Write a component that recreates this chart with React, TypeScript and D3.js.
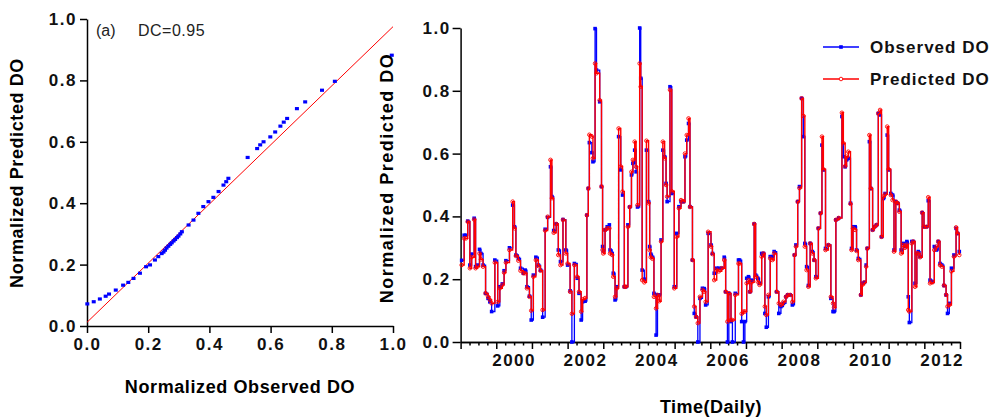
import React, { useEffect, useRef } from 'react';
import * as d3 from 'd3';

// (a) scatter: normalized observed vs predicted DO
const scatterObserved = [0.001, 0.022, 0.042, 0.061, 0.072, 0.094, 0.118, 0.135, 0.152, 0.173, 0.193, 0.206, 0.222, 0.233, 0.244, 0.25, 0.255, 0.26, 0.266, 0.272, 0.277, 0.283, 0.288, 0.294, 0.299, 0.305, 0.31, 0.332, 0.348, 0.364, 0.38, 0.397, 0.413, 0.43, 0.446, 0.455, 0.462, 0.525, 0.556, 0.566, 0.577, 0.599, 0.615, 0.632, 0.643, 0.654, 0.686, 0.713, 0.768, 0.81, 0.996];
const scatterPredicted = [0.072, 0.079, 0.088, 0.097, 0.104, 0.117, 0.133, 0.142, 0.155, 0.172, 0.193, 0.199, 0.215, 0.226, 0.236, 0.241, 0.247, 0.254, 0.26, 0.266, 0.271, 0.277, 0.282, 0.288, 0.293, 0.3, 0.307, 0.329, 0.345, 0.367, 0.389, 0.405, 0.419, 0.438, 0.459, 0.47, 0.481, 0.549, 0.578, 0.59, 0.6, 0.616, 0.632, 0.651, 0.664, 0.676, 0.708, 0.73, 0.768, 0.797, 0.882];
const fitIntercept = 0.012;
const fitSlope = 0.963;

// time series (decimal years)
const sampleYears = [
  1999.03, 1999.10, 1999.15, 1999.20, 1999.26, 1999.31, 1999.38, 1999.42, 1999.47, 1999.53, 1999.57, 1999.63, 1999.70, 1999.77, 1999.82, 1999.87, 1999.96,
  2000.04, 2000.10, 2000.17, 2000.22, 2000.27, 2000.37, 2000.46, 2000.51, 2000.55, 2000.62, 2000.68, 2000.76, 2000.81, 2000.86, 2000.93, 2000.98,
  2001.04, 2001.11, 2001.18, 2001.24, 2001.30, 2001.37, 2001.44, 2001.52, 2001.56, 2001.61, 2001.68, 2001.74, 2001.80, 2001.87, 2001.95,
  2002.00, 2002.07, 2002.12, 2002.19, 2002.27, 2002.32, 2002.38, 2002.42, 2002.49, 2002.54, 2002.58, 2002.61, 2002.68, 2002.71, 2002.77, 2002.81, 2002.90, 2002.95, 2002.98,
  2003.00, 2003.05, 2003.11, 2003.17, 2003.19, 2003.25, 2003.28, 2003.33, 2003.38, 2003.43, 2003.49, 2003.54, 2003.59, 2003.63, 2003.69, 2003.74, 2003.79, 2003.83, 2003.88, 2003.92, 2003.96,
  2004.02, 2004.05, 2004.09, 2004.15, 2004.21, 2004.27, 2004.30, 2004.33, 2004.38, 2004.42, 2004.48, 2004.52, 2004.57, 2004.62, 2004.67, 2004.72, 2004.76, 2004.79, 2004.87, 2004.92, 2004.99,
  2005.06, 2005.12, 2005.18, 2005.25, 2005.29, 2005.34, 2005.39, 2005.43, 2005.50, 2005.55, 2005.60, 2005.65, 2005.71, 2005.78, 2005.83, 2005.87, 2005.94,
  2006.02, 2006.06, 2006.11, 2006.18, 2006.24, 2006.32, 2006.39, 2006.43, 2006.48, 2006.52, 2006.58, 2006.62, 2006.70, 2006.79, 2006.82, 2006.88, 2006.93, 2006.97,
  2007.02, 2007.07, 2007.11, 2007.16, 2007.23, 2007.27, 2007.33, 2007.38, 2007.44, 2007.49, 2007.53, 2007.57, 2007.63, 2007.68, 2007.74, 2007.79, 2007.86, 2007.92, 2007.98,
  2008.05, 2008.12, 2008.17, 2008.24, 2008.30, 2008.36, 2008.40, 2008.45, 2008.50, 2008.56, 2008.61, 2008.65, 2008.70, 2008.75, 2008.80, 2008.86, 2008.91, 2008.96,
  2009.03, 2009.09, 2009.13, 2009.17, 2009.23, 2009.31, 2009.38, 2009.44, 2009.47, 2009.52, 2009.60, 2009.69, 2009.73, 2009.78, 2009.82, 2009.87, 2009.93, 2009.96,
  2010.00, 2010.06, 2010.10, 2010.15, 2010.22, 2010.26, 2010.32, 2010.37, 2010.40, 2010.46, 2010.50, 2010.55, 2010.60, 2010.66, 2010.71, 2010.76, 2010.80, 2010.85, 2010.90, 2010.96,
  2011.00, 2011.06, 2011.11, 2011.15, 2011.20, 2011.25, 2011.30, 2011.35, 2011.41, 2011.46, 2011.51, 2011.55, 2011.58, 2011.65, 2011.69, 2011.74, 2011.79, 2011.83, 2011.88, 2011.94, 2011.99,
  2012.06, 2012.11, 2012.16, 2012.23, 2012.28, 2012.34, 2012.39, 2012.44, 2012.49, 2012.55, 2012.61, 2012.65, 2012.70, 2012.76, 2012.83, 2012.89, 2012.93, 2012.98,
];
const observedDO = [
  0.26, 0.34, 0.34, 0.385, 0.245, 0.28, 0.394, 0.24, 0.245, 0.295, 0.282, 0.245, 0.155, 0.139, 0.128, 0.097, 0.261,
  0.115, 0.176, 0.185, 0.227, 0.259, 0.30, 0.436, 0.367, 0.277, 0.266, 0.235, 0.219, 0.229, 0.176, 0.146, 0.07,
  0.213, 0.27, 0.245, 0.229, 0.079, 0.359, 0.397, 0.558, 0.463, 0.355, 0.376, 0.293, 0.256, 0.39, 0.293,
  0.245, 0.163, 0.0, 0.25, 0.203, 0.155, 0.07, 0.128, 0.13, 0.404, 0.489, 0.635, 0.603, 0.574, 0.998, 0.866, 0.765, 0.495, 0.304,
  0.29, 0.357, 0.367, 0.373, 0.293, 0.282, 0.219, 0.134, 0.176, 0.654, 0.548, 0.468, 0.176, 0.176, 0.373, 0.43, 0.532, 0.569, 0.611, 0.542, 0.43,
  1.0, 0.84, 0.229, 0.2, 0.611, 0.447, 0.304, 0.28, 0.27, 0.155, 0.022, 0.15, 0.15, 0.325, 0.611, 0.59, 0.505, 0.447, 0.813, 0.473, 0.176,
  0.346, 0.431, 0.447, 0.447, 0.59, 0.643, 0.696, 0.431, 0.261, 0.091, 0.08, 0.0, 0.139, 0.171, 0.17, 0.118, 0.346,
  0.309, 0.282, 0.219, 0.235, 0.235, 0.235, 0.27, 0.16, 0.0, 0.155, 0.065, 0.0, 0.155, 0.261, 0.261, 0.065, 0.0, 0.065,
  0.203, 0.208, 0.16, 0.197, 0.376, 0.213, 0.203, 0.187, 0.282, 0.282, 0.091, 0.047, 0.144, 0.272, 0.272, 0.288, 0.16, 0.091, 0.113,
  0.123, 0.144, 0.15, 0.15, 0.118, 0.277, 0.309, 0.447, 0.495, 0.776, 0.654, 0.314, 0.24, 0.18, 0.314, 0.288, 0.261, 0.208,
  0.362, 0.41, 0.627, 0.548, 0.298, 0.309, 0.139, 0.097, 0.097, 0.389, 0.395, 0.718, 0.59, 0.558, 0.58, 0.585, 0.442, 0.298,
  0.367, 0.367, 0.293, 0.266, 0.15, 0.187, 0.19, 0.245, 0.298, 0.638, 0.489, 0.357, 0.367, 0.373, 0.728, 0.723, 0.335, 0.457, 0.473, 0.659,
  0.548, 0.473, 0.468, 0.293, 0.447, 0.442, 0.42, 0.293, 0.314, 0.304, 0.32, 0.144, 0.062, 0.32, 0.32, 0.187, 0.282, 0.288, 0.272, 0.412, 0.367,
  0.367, 0.45, 0.197, 0.192, 0.304, 0.293, 0.32, 0.25, 0.245, 0.18, 0.15, 0.091, 0.123, 0.235, 0.277, 0.362, 0.346, 0.288,
];
const predictedDO = [
  0.245, 0.33, 0.33, 0.383, 0.235, 0.27, 0.39, 0.235, 0.24, 0.282, 0.263, 0.24, 0.155, 0.144, 0.134, 0.123, 0.253,
  0.128, 0.171, 0.182, 0.221, 0.253, 0.293, 0.447, 0.362, 0.274, 0.259, 0.227, 0.219, 0.219, 0.171, 0.144, 0.10,
  0.208, 0.261, 0.242, 0.227, 0.102, 0.355, 0.399, 0.58, 0.458, 0.348, 0.376, 0.277, 0.245, 0.389, 0.282,
  0.25, 0.16, 0.09, 0.245, 0.208, 0.16, 0.097, 0.136, 0.14, 0.404, 0.489, 0.66, 0.654, 0.585, 0.887, 0.856, 0.77, 0.495, 0.293,
  0.282, 0.357, 0.362, 0.362, 0.282, 0.277, 0.208, 0.144, 0.171, 0.68, 0.559, 0.479, 0.176, 0.176, 0.367, 0.43, 0.542, 0.58, 0.638, 0.558, 0.436,
  0.887, 0.813, 0.197, 0.19, 0.641, 0.442, 0.293, 0.27, 0.265, 0.144, 0.107, 0.15, 0.13, 0.32, 0.638, 0.585, 0.5, 0.463, 0.803, 0.48, 0.171,
  0.335, 0.426, 0.452, 0.447, 0.6, 0.659, 0.712, 0.43, 0.261, 0.113, 0.08, 0.06, 0.144, 0.166, 0.16, 0.128, 0.351,
  0.304, 0.28, 0.197, 0.23, 0.225, 0.235, 0.261, 0.16, 0.065, 0.155, 0.07, 0.07, 0.15, 0.25, 0.25, 0.09, 0.097, 0.097,
  0.187, 0.197, 0.16, 0.19, 0.376, 0.208, 0.192, 0.182, 0.272, 0.282, 0.113, 0.086, 0.15, 0.266, 0.261, 0.282, 0.16, 0.123, 0.118,
  0.128, 0.144, 0.15, 0.15, 0.128, 0.277, 0.304, 0.447, 0.49, 0.776, 0.72, 0.304, 0.229, 0.176, 0.314, 0.282, 0.261, 0.203,
  0.362, 0.41, 0.654, 0.55, 0.293, 0.309, 0.144, 0.123, 0.11, 0.389, 0.395, 0.73, 0.633, 0.56, 0.59, 0.606, 0.44, 0.293,
  0.362, 0.357, 0.29, 0.261, 0.15, 0.182, 0.19, 0.24, 0.298, 0.659, 0.489, 0.357, 0.367, 0.373, 0.728, 0.739, 0.335, 0.463, 0.47, 0.686,
  0.55, 0.468, 0.452, 0.288, 0.447, 0.442, 0.415, 0.282, 0.309, 0.30, 0.31, 0.102, 0.097, 0.314, 0.32, 0.176, 0.282, 0.282, 0.27, 0.412, 0.367,
  0.367, 0.461, 0.187, 0.19, 0.293, 0.304, 0.32, 0.245, 0.24, 0.18, 0.15, 0.113, 0.118, 0.225, 0.272, 0.365, 0.346, 0.277,
];

const valueTicks = [0, 0.2, 0.4, 0.6, 0.8, 1.0];
const yearLabels = [2000, 2002, 2004, 2006, 2008, 2010, 2012];
const seriesNames = ['Observed DO', 'Predicted DO'];

const FONT = '"Liberation Sans", Arial, sans-serif';
const BLUE = '#0000ff';
const RED = '#ff0000';

export default function App() {
  const ref = useRef<SVGSVGElement>(null);

  useEffect(() => {
    const svg = d3.select(ref.current);
    svg.selectAll('*').remove();

    const styleAxis = (g: any) => {
      g.select('.domain').attr('stroke', '#000').attr('stroke-width', 1.5);
      g.selectAll('.tick line').attr('stroke', '#000').attr('stroke-width', 1.5);
      g.selectAll('.tick text')
        .attr('fill', '#111')
        .style('font-family', FONT)
        .style('font-size', '17px')
        .style('font-weight', 'bold')
        .style('letter-spacing', '1.5px');
    };

    // ---------- left panel (a) ----------
    const x1 = d3.scaleLinear().domain([0, 1]).range([87, 393]);
    const y1 = d3.scaleLinear().domain([0, 1]).range([326, 19]);

    svg.append('g')
      .attr('transform', `translate(0,${y1(0)})`)
      .call(d3.axisBottom(x1).tickValues(valueTicks).tickFormat(d3.format('.1f')).tickSize(7).tickSizeOuter(0).tickPadding(5))
      .call(styleAxis);

    svg.append('g')
      .attr('transform', `translate(${x1(0)},0)`)
      .call(d3.axisLeft(y1).tickValues(valueTicks).tickFormat(d3.format('.1f')).tickSize(7).tickSizeOuter(0).tickPadding(3))
      .call(styleAxis);

    // fitted line
    svg.append('line')
      .attr('x1', x1(0)).attr('y1', y1(fitIntercept))
      .attr('x2', x1(1)).attr('y2', y1(fitIntercept + fitSlope))
      .attr('stroke', RED).attr('stroke-width', 1);

    svg.append('g').selectAll('rect')
      .data(scatterObserved)
      .enter()
      .append('rect')
      .attr('x', d => x1(d) - 2)
      .attr('y', (d, i) => y1(scatterPredicted[i]) - 1.6)
      .attr('width', 4)
      .attr('height', 3.2)
      .attr('fill', BLUE);

    svg.append('text').attr('x', 96).attr('y', 36)
      .style('font-family', FONT).style('font-size', '16px').attr('fill', '#222')
      .text('(a)');
    svg.append('text').attr('x', 138).attr('y', 36)
      .style('font-family', FONT).style('font-size', '16px').style('letter-spacing', '0.5px').attr('fill', '#222')
      .text('DC=0.95');

    svg.append('text').attr('x', 240).attr('y', 393).attr('text-anchor', 'middle')
      .style('font-family', FONT).style('font-size', '18px').style('font-weight', 'bold').style('letter-spacing', '0.6px')
      .text('Normalized Observed DO');
    svg.append('text').attr('transform', 'translate(23,173) rotate(-90)').attr('text-anchor', 'middle')
      .style('font-family', FONT).style('font-size', '18px').style('font-weight', 'bold').style('letter-spacing', '0.6px')
      .text('Normalized Predicted DO');

    // ---------- right panel: time series ----------
    const x2 = d3.scaleLinear().domain([1999, 2013]).range([460.6, 960]);
    const y2 = d3.scaleLinear().domain([0, 1]).range([342, 28]);

    svg.append('g')
      .attr('transform', `translate(0,${y2(0)})`)
      .call(d3.axisBottom(x2).tickValues(d3.range(1999, 2013, 0.25).filter(v => v % 1 !== 0)).tickFormat(() => '').tickSize(3.5).tickSizeOuter(0))
      .call(styleAxis);
    svg.append('g')
      .attr('transform', `translate(0,${y2(0)})`)
      .call(d3.axisBottom(x2).tickValues(d3.range(1999, 2014)).tickFormat(() => '').tickSize(7).tickSizeOuter(0))
      .call(styleAxis);

    svg.append('g').selectAll('text')
      .data(yearLabels)
      .enter()
      .append('text')
      .attr('x', d => x2(d + 0.5))
      .attr('y', 366)
      .attr('text-anchor', 'middle')
      .attr('fill', '#111')
      .style('font-family', FONT).style('font-size', '17px').style('font-weight', 'bold').style('letter-spacing', '1.5px')
      .text(d => String(d));

    svg.append('g')
      .attr('transform', `translate(${x2(1999)},0)`)
      .call(d3.axisLeft(y2).tickValues(valueTicks).tickFormat(d3.format('.1f')).tickSize(8).tickSizeOuter(0).tickPadding(2))
      .call(styleAxis);

    const obsPts = sampleYears.map((t, i) => [t, observedDO[i]] as [number, number]);
    const predPts = sampleYears.map((t, i) => [t, predictedDO[i]] as [number, number]);
    const line = d3.line<[number, number]>()
      .x(d => x2(d[0]))
      .y(d => y2(d[1]))
      .curve(d3.curveStepAfter);

    svg.append('path').datum(obsPts).attr('d', line).attr('fill', 'none').attr('stroke', BLUE).attr('stroke-width', 1.3);
    svg.append('g').selectAll('rect')
      .data(obsPts)
      .enter()
      .append('rect')
      .attr('x', d => x2(d[0]) - 1.8)
      .attr('y', d => y2(d[1]) - 1.8)
      .attr('width', 3.6)
      .attr('height', 3.6)
      .attr('fill', BLUE);
    svg.append('path').datum(predPts).attr('d', line).attr('fill', 'none').attr('stroke', RED).attr('stroke-width', 1.4);
    svg.append('g').selectAll('circle')
      .data(predPts)
      .enter()
      .append('circle')
      .attr('cx', d => x2(d[0]))
      .attr('cy', d => y2(d[1]))
      .attr('r', 1.8)
      .attr('fill', 'none')
      .attr('stroke', RED)
      .attr('stroke-width', 0.9);

    // legend
    const legend = svg.append('g');
    seriesNames.forEach((name, i) => {
      const ly = 47 + i * 32;
      const color = i === 0 ? BLUE : RED;
      legend.append('line').attr('x1', 823).attr('x2', 859).attr('y1', ly).attr('y2', ly)
        .attr('stroke', color).attr('stroke-width', 1.3);
      if (i === 0) {
        legend.append('rect').attr('x', 839.2).attr('y', ly - 1.8).attr('width', 3.6).attr('height', 3.6).attr('fill', BLUE);
      } else {
        legend.append('circle').attr('cx', 841).attr('cy', ly).attr('r', 1.8)
          .attr('fill', '#fff').attr('stroke', RED).attr('stroke-width', 0.9);
      }
      legend.append('text').attr('x', 870).attr('y', ly + 6)
        .style('font-family', FONT).style('font-size', '17px').style('font-weight', 'bold').style('letter-spacing', '1px')
        .attr('fill', '#111')
        .text(name);
    });

    svg.append('text').attr('x', 711).attr('y', 413).attr('text-anchor', 'middle')
      .style('font-family', FONT).style('font-size', '18px').style('font-weight', 'bold').style('letter-spacing', '0.5px')
      .text('Time(Daily)');
    svg.append('text').attr('transform', 'translate(393,178) rotate(-90)').attr('text-anchor', 'middle')
      .style('font-family', FONT).style('font-size', '18px').style('font-weight', 'bold').style('letter-spacing', '1.5px')
      .text('Normalized Predicted DO');
  }, []);

  return (
    <svg
      ref={ref}
      width={990}
      height={419}
      style={{ position: 'absolute', left: 0, top: 0, background: '#fff' }}
    />
  );
}
